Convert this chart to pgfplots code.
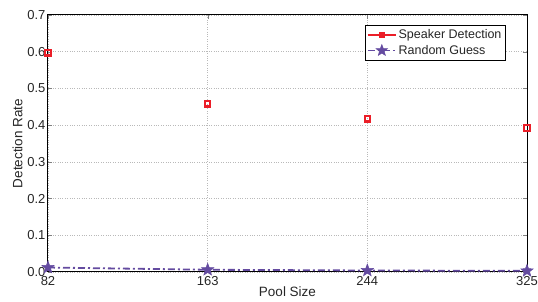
\documentclass[border=0pt]{standalone}
\usepackage{fontspec}
\setmainfont{Liberation Sans}
\usepackage{pgfplots}
\pgfplotsset{compat=1.18}
\definecolor{sdred}{RGB}{235,30,40}
\definecolor{rgpurple}{RGB}{100,75,160}
\pgfdeclareplotmark{fstar}{%
  \pgfpathmoveto{\pgfpointpolar{90}{\pgfplotmarksize}}%
  \pgfpathlineto{\pgfpointpolar{126}{0.42\pgfplotmarksize}}%
  \pgfpathlineto{\pgfpointpolar{162}{\pgfplotmarksize}}%
  \pgfpathlineto{\pgfpointpolar{198}{0.42\pgfplotmarksize}}%
  \pgfpathlineto{\pgfpointpolar{234}{\pgfplotmarksize}}%
  \pgfpathlineto{\pgfpointpolar{270}{0.42\pgfplotmarksize}}%
  \pgfpathlineto{\pgfpointpolar{306}{\pgfplotmarksize}}%
  \pgfpathlineto{\pgfpointpolar{342}{0.42\pgfplotmarksize}}%
  \pgfpathlineto{\pgfpointpolar{18}{\pgfplotmarksize}}%
  \pgfpathlineto{\pgfpointpolar{54}{0.42\pgfplotmarksize}}%
  \pgfpathclose
  \pgfusepathqfillstroke}
\begin{document}
\begin{tikzpicture}
\path[use as bounding box] (-48pt,-30pt) rectangle (490pt,272pt);
\begin{axis}[
  at={(0,0)}, anchor=south west,
  scale only axis,
  width=479pt, height=257pt,
  xmin=82, xmax=325, ymin=0, ymax=0.7,
  xtick={82,163,244,325},
  ytick={0,0.1,...,0.7},
  yticklabel style={xshift=1pt, /pgf/number format/.cd,fixed,fixed zerofill,precision=1},
  /pgf/number format/assume math mode=true,
  tick label style={font=\fontsize{13}{15}\selectfont, text=black!85},
  xticklabel style={yshift=-1pt},
  label style={font=\fontsize{13.5}{15}\selectfont, text=black!85},
  xlabel={Pool Size}, ylabel={Detection Rate},
  xlabel style={yshift=6pt},
  ylabel style={yshift=-2pt},
  grid=major,
  major grid style={dotted, gray!55, line width=0.7pt},
  tick align=inside,
  major tick length=4pt,
  axis line style={line width=1pt},
  legend style={at={(0.956,0.962)}, anchor=north east, draw=black, line width=0.9pt,
    font=\fontsize{12.5}{14}\selectfont, inner xsep=2pt, inner ysep=2.5pt, row sep=1pt, text=black!85},
  legend cell align=left,
  clip=false,
]
\addplot[only marks, mark=square, mark size=2.7pt, draw=sdred, line width=2.2pt, fill=white,
  legend image code/.code={\draw[sdred, line width=1.6pt] (0pt,0pt) -- (28pt,0pt);
    \draw[sdred, fill=sdred, line width=0.8pt] (14pt,0pt) +(-2.5pt,-2.5pt) rectangle +(2.5pt,2.5pt);}]
coordinates {(82,0.597) (163,0.458) (244,0.417) (325,0.392)};
\addlegendentry{Speaker Detection}
\addplot[rgpurple, dash pattern=on 7pt off 3pt on 2pt off 3pt, line width=1.8pt, mark=fstar, mark options={solid, fill=rgpurple, draw=rgpurple, line width=0.5pt}, mark size=6.5pt,
  legend image code/.code={\draw[rgpurple, line width=1.6pt] (0pt,0pt) -- (28pt,0pt);
    \draw[rgpurple, fill=rgpurple, line width=0.5pt] plot[mark=fstar, mark size=6pt] coordinates {(14pt,0pt)};}]
coordinates {(82,0.0122) (163,0.0061) (244,0.0041) (325,0.0031)};
\addlegendentry{Random Guess}
\end{axis}
\end{tikzpicture}
\end{document}
